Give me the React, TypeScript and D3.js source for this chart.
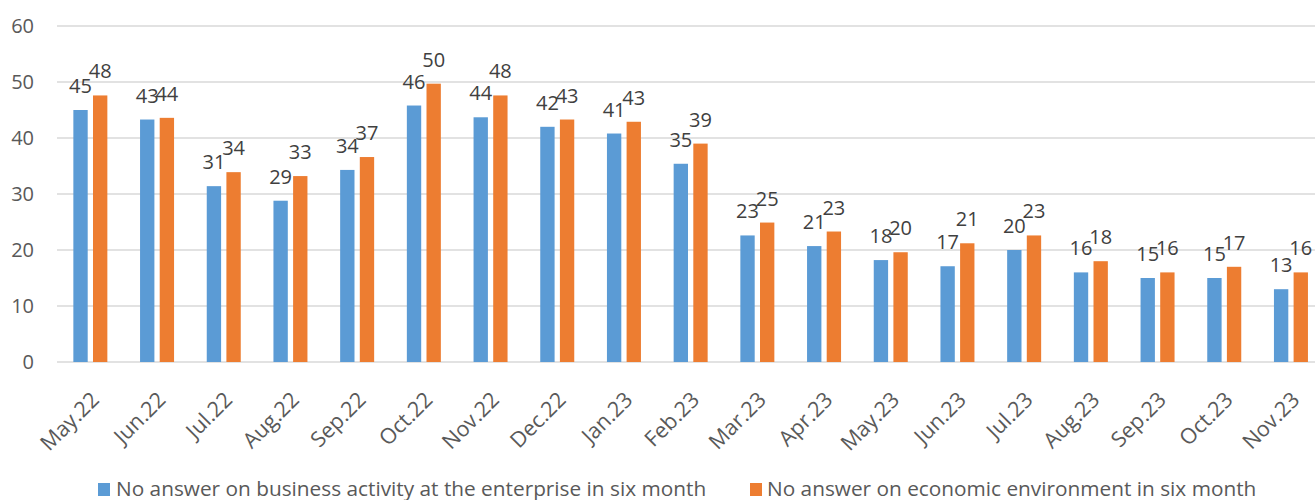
import React from "react";
import * as d3 from "d3";

const categories = ["May.22","Jun.22","Jul.22","Aug.22","Sep.22","Oct.22","Nov.22","Dec.22","Jan.23","Feb.23","Mar.23","Apr.23","May.23","Jun.23","Jul.23","Aug.23","Sep.23","Oct.23","Nov.23"];
const businessActivity = [45.0,43.3,31.4,28.8,34.3,45.8,43.7,42.0,40.8,35.4,22.6,20.7,18.2,17.1,20.0,16.0,15.0,15.0,13.0];
const economicEnvironment = [47.6,43.6,33.9,33.2,36.6,49.7,47.6,43.3,42.9,39.0,24.9,23.3,19.6,21.2,22.6,18.0,16.0,17.0,16.0];
const seriesNames = ["No answer on business activity at the enterprise in six month","No answer on economic environment in six month"];
const colors = ["#5B9BD5","#ED7D31"];
const yTicks = [0,10,20,30,40,50,60];

const W = 1315, H = 500;
const FONT = "'Open Sans', 'Noto Sans', sans-serif";

export default function App() {
  const left = 57, step = 66.7;
  const x = d3.scaleBand<string>().domain(categories).range([left, left + step * categories.length]).padding(0);
  const bw = x.bandwidth();
  const x1 = d3.scaleBand<string>().domain(["a","b"]).range([bw/2 - 17, bw/2 + 17]).paddingInner(0.27).paddingOuter(0);
  const y = d3.scaleLinear().domain([0,60]).range([362,26]);
  const series = [businessActivity, economicEnvironment];
  const keys = ["a","b"];
  return (
    <svg width={W} height={H} style={{position:"absolute",left:0,top:0,background:"#fff"}} fontFamily={FONT}>
      {yTicks.map(t => (
        <g key={t}>
          <line x1={left} x2={W} y1={y(t)} y2={y(t)} stroke="#d9d9d9" strokeWidth={1.5} />
          <text x={34} y={y(t)} dy="0.35em" textAnchor="end" fontSize={20} fill="#595959">{t}</text>
        </g>
      ))}
      {series.map((vals, si) => (
        <g key={si}>
          {vals.map((v, i) => {
            const bx = (x(categories[i]) as number) + (x1(keys[si]) as number);
            return <rect key={i} x={bx} y={y(v)} width={x1.bandwidth()} height={y(0) - y(v)} fill={colors[si]} />;
          })}
        </g>
      ))}
      {series.map((vals, si) => (
        <g key={"l"+si}>
          {vals.map((v, i) => {
            const cx = (x(categories[i]) as number) + (x1(keys[si]) as number) + x1.bandwidth()/2;
            return <text key={i} x={cx} y={y(v) - 17} textAnchor="middle" fontSize={20} fill="#404040">{Math.round(v)}</text>;
          })}
        </g>
      ))}
      {categories.map((c) => {
        const cx = (x(c) as number) + bw/2;
        return <text key={c} transform={`translate(${cx + 10},${401}) rotate(-45)`} textAnchor="end" fontSize={21.5} fill="#595959">{c}</text>;
      })}
      <g>
        <rect x={98} y={483} width={12} height={13} fill={colors[0]} />
        <text x={116} y={496} fontSize={20.8} fill="#595959">{seriesNames[0]}</text>
        <rect x={750} y={483} width={12} height={13} fill={colors[1]} />
        <text x={767} y={496} fontSize={20.8} fill="#595959">{seriesNames[1]}</text>
      </g>
    </svg>
  );
}
